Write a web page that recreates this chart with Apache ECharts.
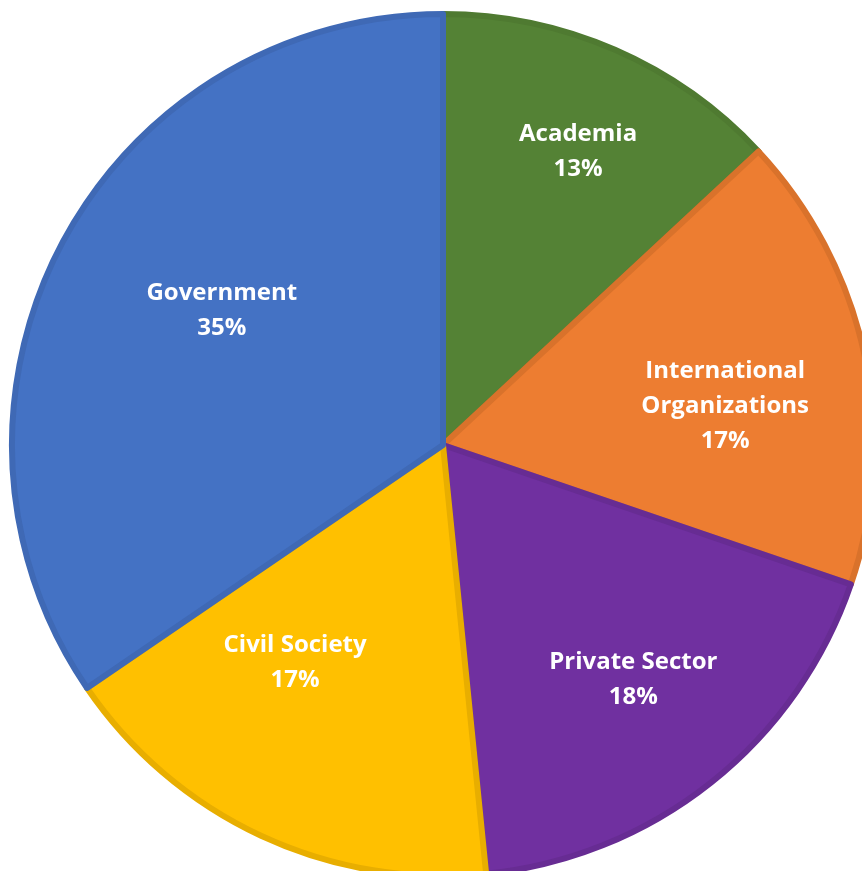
<!DOCTYPE html>
<html>
<head>
<meta charset="utf-8">
<script src="https://cdn.jsdelivr.net/npm/echarts@6/dist/echarts.min.js"></script>
<style>html,body{margin:0;padding:0;background:#fff}#c{width:862px;height:871px}</style>
</head>
<body>
<div id="c"></div>
<script>
const categories = ['Academia', 'International\nOrganizations', 'Private Sector', 'Civil Society', 'Government'];
const values = [13.1, 17.2, 18.2, 17.1, 34.6];

const colors = ['#548235', '#ED7D31', '#7030A0', '#FFC000', '#4472C4'];
const borderColors = ['#4F7A31', '#D9722B', '#672C93', '#E8AE00', '#3F69B5'];
// label placement style (polar): radius fraction and angular shift (deg, clockwise)
const labelRadiusFrac = [0.749, 0.661, 0.701, 0.611, 0.601];
const labelAngleShift = [1.2, 4.1, -0.6, 9.2, 3.5];

const CX = 443, CY = 445, R = 431;

const chart = echarts.init(document.getElementById('c'));
chart.setOption({
  animation: false,
  series: [{
    type: 'pie',
    center: [CX, CY],
    radius: R,
    startAngle: 90,
    clockwise: true,
    avoidLabelOverlap: false,
    data: categories.map((n, i) => ({
      name: n,
      value: values[i],
      itemStyle: { color: colors[i], borderColor: borderColors[i], borderWidth: 6, borderJoin: 'round' }
    })),
    label: {
      show: true,
      position: 'inside',
      formatter: p => p.name + '\n' + Math.round(p.percent) + '%',
      color: '#fff',
      fontFamily: 'Open Sans',
      fontWeight: 'bold',
      fontSize: 24,
      lineHeight: 35,
      align: 'center'
    },
    labelLine: { show: false },
    emphasis: { disabled: true },
    labelLayout: function (p) {
      const r = p.labelRect;
      const lx = r.x + r.width / 2, ly = r.y + r.height / 2;
      const vx = lx - CX, vy = ly - CY;
      // clockwise angle from top
      const a = Math.atan2(vx, -vy) + labelAngleShift[p.dataIndex] * Math.PI / 180;
      const t = R * labelRadiusFrac[p.dataIndex];
      const tx = CX + t * Math.sin(a), ty = CY - t * Math.cos(a);
      return { dx: tx - lx, dy: ty - ly };
    }
  }]
});
</script>
</body>
</html>
